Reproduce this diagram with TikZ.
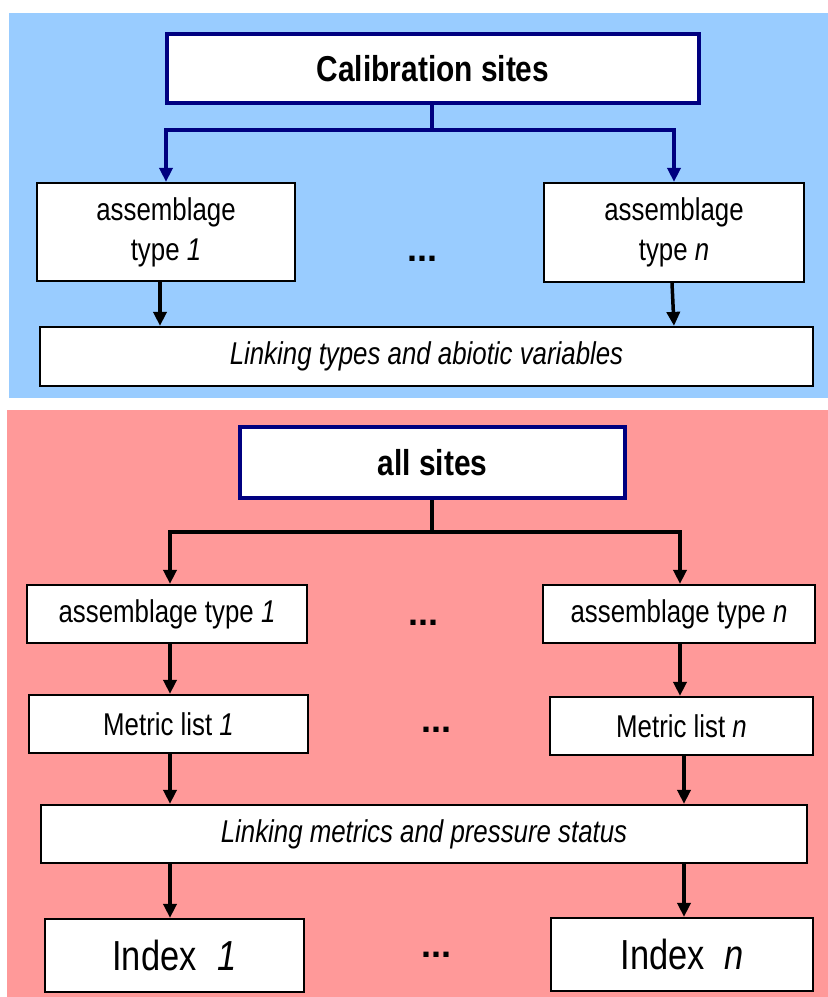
\documentclass[tikz,border=0pt]{standalone}
\usepackage{fontspec}
\setmainfont[FakeStretch=0.82]{Liberation Sans}
\newfontfamily\headfont[FakeStretch=0.83]{Liberation Sans}
\newfontfamily\dotfont{Liberation Sans}
\usetikzlibrary{arrows.meta}
\definecolor{bluebg}{HTML}{99CCFF}
\definecolor{pinkbg}{HTML}{FF9999}
\definecolor{navy}{HTML}{000080}
\tikzset{
  box/.style={draw=black, line width=2.2pt, fill=white, inner sep=0pt, align=center, font=\fontsize{31.5}{40}\selectfont},
  headbox/.style={box, draw=navy, line width=4pt, font=\headfont\fontsize{36}{38}\selectfont\bfseries},
  bigbox/.style={box, font=\fontsize{42}{46}\selectfont},
  navyline/.style={draw=navy, line width=3.5pt},
  blackline/.style={draw=black, line width=3.5pt},
  navyarr/.style={navyline, -{Triangle[length=14pt,width=13pt]}},
  blackarr/.style={blackline, -{Triangle[length=14pt,width=13pt]}},
  dots/.style={font=\dotfont\fontsize{36}{36}\selectfont\bfseries, inner sep=0pt}
}
\begin{document}
\begin{tikzpicture}[x=1pt,y=-1pt]
\useasboundingbox (0,0) rectangle (828,997);
\fill[white] (0,0) rectangle (828,997);
\fill[bluebg] (9,13) rectangle (828,398);
\fill[pinkbg] (7,410) rectangle (828,997);

% ---- upper panel
\node[headbox, minimum width=532pt, minimum height=69pt] (cal) at (433,68.5) {Calibration sites};
\node[box, minimum width=258pt, minimum height=98pt] (a1) at (166,232) {assemblage\\type \textit{1}};
\node[box, minimum width=260pt, minimum height=99pt] (an) at (674,232.5) {assemblage\\type \textit{n}};
\node[dots] (d0) at (422.5,259) {...};
\node[box, minimum width=773pt, minimum height=59pt] (l1) at (426.5,356.5) {\textit{Linking types and abiotic variables}};

\coordinate (jt) at (432,130);
\coordinate (xl) at (160,0);
\coordinate (xr) at (674,0);
\draw[navyline] (cal.south -| jt) -- (jt);
\draw[navyarr] (jt) -| (a1.north);
\draw[navyarr] (jt) -| (an.north);
\draw[blackarr] (a1.south -| xl) -- (l1.north -| xl);
\draw[blackarr] ([xshift=-2pt]an.south) -- (l1.north -| xr);

% ---- lower panel
\node[headbox, minimum width=385pt, minimum height=71pt] (all) at (432.5,462.5) {all sites};
\node[box, minimum width=280pt, minimum height=58pt] (p1) at (167,614) {assemblage type \textit{1}};
\node[box, minimum width=272pt, minimum height=58pt] (pn) at (679,614) {assemblage type \textit{n}};
\node[dots] (d1) at (423,623) {...};
\node[box, minimum width=279pt, minimum height=58pt] (m1) at (168.5,724) {Metric list \textit{1}};
\node[box, minimum width=263pt, minimum height=58pt] (mn) at (681.5,726) {Metric list \textit{n}};
\node[dots] (d2) at (436,730) {...};
\node[box, minimum width=766pt, minimum height=58pt] (l2) at (424,834) {\textit{Linking metrics and pressure status}};
\node[bigbox, minimum width=259pt, minimum height=73pt] (i1) at (174.5,955.5) {Index\hspace{0.5em}\textit{1}};
\node[bigbox, minimum width=262pt, minimum height=73pt] (in) at (682,954.5) {Index\ \ \textit{n}};
\node[dots] (d3) at (436,955) {...};

\coordinate (jb) at (432,532);
\coordinate (pl) at (170,0);
\coordinate (pr) at (680,0);
\coordinate (pr2) at (684,0);
\draw[blackline] (all.south -| jb) -- (jb);
\draw[blackarr] (jb) -| (p1.north -| pl);
\draw[blackarr] (jb) -| (pn.north -| pr);
\draw[blackarr] (p1.south -| pl) -- (m1.north -| pl);
\draw[blackarr] (pn.south -| pr) -- (mn.north -| pr);
\draw[blackarr] (m1.south -| pl) -- (l2.north -| pl);
\draw[blackarr] (mn.south -| pr2) -- (l2.north -| pr2);
\draw[blackarr] (l2.south -| pl) -- (i1.north -| pl);
\draw[blackarr] (l2.south -| pr2) -- (in.north -| pr2);
\end{tikzpicture}
\end{document}
